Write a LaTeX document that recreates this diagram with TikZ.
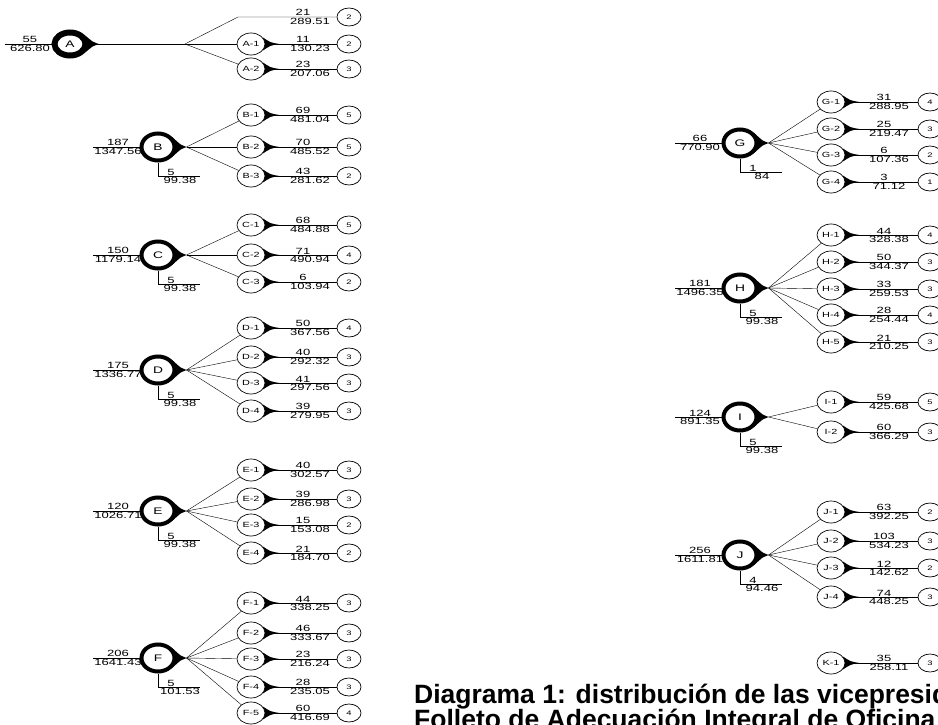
\documentclass[tikz,border=0pt]{standalone}
\usepackage{fontspec}
\setmainfont{Liberation Sans}
\newfontfamily\cad[FakeStretch=1.45]{Liberation Sans}
\usetikzlibrary{shapes.geometric,backgrounds}

\newcommand\gota[3]{%
  \fill (#1.#3) .. controls ([xshift=5pt,yshift=1.5pt]#1.east) .. ([xshift=#2]#1.east)
        .. controls ([xshift=5pt,yshift=-1.5pt]#1.east) .. (#1.-#3) -- cycle;}

\begin{document}
\begin{tikzpicture}[x=1pt,y=1pt,line width=0.8pt]
        \tikzset{vp/.style={draw,ellipse,fill=white,line width=4pt,minimum width=33pt,
                minimum height=27pt,inner sep=0pt,font=\cad\fontsize{9.5}{10}\selectfont},
            ofi/.style={draw,ellipse,fill=white,line width=0.7pt,minimum width=28pt,
                minimum height=22pt,inner sep=0pt,font=\cad\fontsize{7.5}{8}\selectfont},
            num/.style={draw,ellipse,line width=0.7pt,minimum width=24pt,
                minimum height=18pt,inner sep=0pt,font=\cad\fontsize{6.5}{7}\selectfont},
            cifra/.style={inner sep=0.8pt,font=\cad\fontsize{9}{9}\selectfont},
            titulo/.style={anchor=base west,inner sep=0pt,font=\bfseries\fontsize{26.5}{26.5}\selectfont}}
        \useasboundingbox (0,0) rectangle (938,-725);
        \clip (0,0) rectangle (938,-725);

        \node[vp,line width=6pt,minimum width=31pt,minimum height=23pt] (A) at (70,-44) {A};
        \coordinate (tA) at (185,-44);
        \draw (A.east) -- (tA);
        \begin{pgfonlayer}{background}\gota{A}{10pt}{35}\end{pgfonlayer}
        \foreach \v/\x/\y in {B/158/147,C/158/255,D/158/370,E/158/511,F/158/658,
                G/740/143,H/740/288,I/740/417,J/740/555}{
            \node[vp] (\v) at (\x,-\y) {\v};
            \coordinate (t\v) at ([xshift=10pt]\v.east);
            \begin{pgfonlayer}{background}\gota{\v}{10pt}{35}\end{pgfonlayer}
        }

        \foreach \v/\s/\t in {A/55/626.80,B/187/1347.56,C/150/1179.14,D/175/1336.77,
                E/120/1026.71,F/206/1641.43,G/66/770.90,H/181/1496.35,I/124/891.35,
                J/256/1611.81}{
            \draw ([xshift=-65pt]\v.center) -- (\v.west);
            \node[cifra,anchor=south] at ([xshift=-40pt]\v.center) {\s};
            \node[cifra,anchor=north] at ([xshift=-40pt]\v.center) {\t};
        }

        \foreach \v/\s/\t in {B/5/99.38,C/5/99.38,D/5/99.38,E/5/99.38,F/5/101.53,
                G/1/84,H/5/99.38,I/5/99.38,J/4/94.46}{
            \draw (\v.south) |- ([xshift=42pt,yshift=-29.5pt]\v.center);
            \node[cifra,anchor=south] at ([xshift=13pt,yshift=-29.5pt]\v.center) {\s};
            \node[cifra,anchor=north] at ([xshift=22pt,yshift=-29.5pt]\v.center) {\t};
        }

        \coordinate (A-0) at (238,-17);
        \node[num] (nA-0) at (349,-17) {2};
        \draw (tA) -- (A-0) -- (nA-0);
        \node[cifra,anchor=south] at (303,-17) {21};
        \node[cifra,anchor=north] at (310,-17) {289.51};

        \foreach \v/\o/\y/\s/\t/\n in {A/A-1/44/11/130.23/2,A/A-2/69/23/207.06/3,
                B/B-1/115/69/481.04/5,B/B-2/147/70/485.52/5,B/B-3/176/43/281.62/2,
                C/C-1/225/68/484.88/5,C/C-2/255/71/490.94/4,C/C-3/282/6/103.94/2,
                D/D-1/328/50/367.56/4,D/D-2/357/40/292.32/3,D/D-3/383/41/297.56/3,
                D/D-4/411/39/279.95/3,
                E/E-1/470/40/302.57/3,E/E-2/499/39/286.98/3,E/E-3/525/15/153.08/2,
                E/E-4/553/21/184.70/2,
                F/F-1/603/44/338.25/3,F/F-2/633/46/333.67/3,F/F-3/659/23/216.24/3,
                F/F-4/687/28/235.05/3,F/F-5/713/60/416.69/4}{
            \node[ofi] (\o) at (251,-\y) {\o};
            \node[num] (n\o) at (349,-\y) {\n};
            \draw (t\v) -- (\o);
            \draw (\o.east) -- (n\o);
            \node[cifra,anchor=south] at (303,-\y) {\s};
            \node[cifra,anchor=north] at (310,-\y) {\t};
            \begin{pgfonlayer}{background}\gota{\o}{14pt}{30}\end{pgfonlayer}
        }

        \foreach \v/\o/\y/\s/\t/\n in {G/G-1/102/31/288.95/4,G/G-2/129/25/219.47/3,
                G/G-3/155/6/107.36/2,G/G-4/182/3/71.12/1,
                H/H-1/235/44/328.38/4,H/H-2/262/50/344.37/3,H/H-3/289/33/259.53/3,
                H/H-4/315/28/254.44/4,H/H-5/342/21/210.25/3,
                I/I-1/402/59/425.68/5,I/I-2/432/60/366.29/3,
                J/J-1/512/63/392.25/2,J/J-2/541/103/534.23/3,J/J-3/568/12/142.62/2,
                J/J-4/597/74/448.25/3}{
            \node[ofi] (\o) at (831,-\y) {\o};
            \node[num] (n\o) at (930,-\y) {\n};
            \draw (t\v) -- (\o);
            \draw (\o.east) -- (n\o);
            \node[cifra,anchor=south] at (884,-\y) {\s};
            \node[cifra,anchor=north] at (889,-\y) {\t};
            \begin{pgfonlayer}{background}\gota{\o}{14pt}{30}\end{pgfonlayer}
        }

        \node[ofi] (K-1) at (831,-663) {K-1};
        \node[num] (nK-1) at (930,-663) {3};
        \draw (K-1.east) -- (nK-1);
        \node[cifra,anchor=south] at (884,-663) {35};
        \node[cifra,anchor=north] at (889,-663) {258.11};
        \begin{pgfonlayer}{background}\gota{K-1}{14pt}{30}\end{pgfonlayer}

        \node[titulo] (tit1) at (414,-703) {Diagrama 1: distribución de las vicepresid};
        \node[titulo] (tit2) at (414,-728) {Folleto de Adecuación Integral de Oficina};
    \end{tikzpicture}
\end{document}
